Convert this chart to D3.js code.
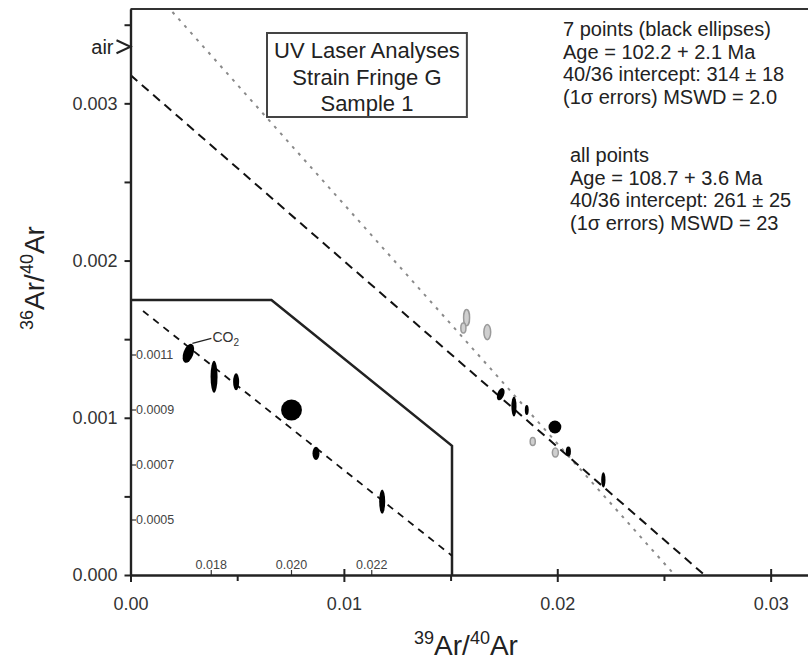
<!DOCTYPE html>
<html>
<head>
<meta charset="utf-8">
<style>
  body { margin: 0; background: #fff; }
  svg text { font-family: "Liberation Sans", Arial, sans-serif; fill: #222; }
  .axis path, .axis line { stroke: #222; }
</style>
</head>
<body>
<script src="https://cdn.jsdelivr.net/npm/d3@7"></script>
<script>

// ---- data ----
// main isochron: [39Ar/40Ar, 36Ar/40Ar, err x, err y, tilt deg]
var blackPoints = [
  [0.01735, 0.001150, 0.00016, 0.000041, 20],
  [0.01797, 0.001072, 0.00012, 0.000064, 0],
  [0.01857, 0.001050, 0.00009, 0.000032, 0],
  [0.01989, 0.000941, 0.00030, 0.000041, 0],
  [0.02052, 0.000785, 0.00012, 0.000032, 0],
  [0.02216, 0.000605, 0.00010, 0.000048, 0]
];
var grayPoints = [
  [0.01575, 0.001637, 0.00014, 0.000051],
  [0.01560, 0.001571, 0.00012, 0.000032],
  [0.01672, 0.001545, 0.00016, 0.000048],
  [0.01885, 0.000849, 0.00012, 0.000025],
  [0.01991, 0.000779, 0.00014, 0.000029]
];
// enlarged inset of the black points
var insetPoints = [
  [0.01743, 0.001106, 0.000125, 0.000036, 20],
  [0.01807, 0.001021, 0.000087, 0.000058, 0],
  [0.01862, 0.001003, 0.000075, 0.000031, 0],
  [0.02000, 0.000900, 0.000260, 0.000038, 0],
  [0.02061, 0.000742, 0.000087, 0.000024, 0],
  [0.02226, 0.000567, 0.000075, 0.000044, 0]
];
// fit lines [x0, y0, x1, y1]
var fitBlack = [0, 0.00318, 0.0269, 0];
var fitAll   = [0, 0.00388, 0.0255, 0];
var insetFit = [0.0163, 0.00126, 0.024, 0.00037];
var insetFrame = [[0.016, 0.0013], [0.0195, 0.0013], [0.024, 0.00077], [0.024, 0.0003]];
var airValue = 0.00336;

var xMajor = [0, 0.01, 0.02, 0.03], xMinor = [0.005, 0.015, 0.025];
var yMajor = [0, 0.001, 0.002, 0.003], yMinor = [0.0005, 0.0015, 0.0025, 0.0035];
var insetXTicks = [0.018, 0.020, 0.022];
var insetYTicks = [0.0005, 0.0007, 0.0009, 0.0011];

var titleLines = ["UV Laser Analyses", "Strain Fringe G", "Sample 1"];
var stats7 = ["7 points (black ellipses)", "Age = 102.2 + 2.1 Ma", "40/36 intercept: 314 \u00b1 18", "(1\u03c3 errors) MSWD = 2.0"];
var statsAll = ["all points", "Age = 108.7 + 3.6 Ma", "40/36 intercept: 261 \u00b1 25", "(1\u03c3 errors) MSWD = 23"];

// ---- layout ----
var W = 808, H = 662;
var pLeft = 130.5, pTop = 9, pBottom = 575, pRight = 808;

var svg = d3.select("body").append("svg")
    .attr("width", W).attr("height", H);

var x = d3.scaleLinear().domain([0, 0.03175]).range([pLeft, pRight]);
var y = d3.scaleLinear().domain([0, 0.0036]).range([pBottom, pTop]);

var ix = d3.scaleLinear().domain([0.016, 0.024]).range([131, 452]);
var iy = d3.scaleLinear().domain([0.0003, 0.0013]).range([pBottom, 300]);

svg.append("clipPath").attr("id", "plot")
  .append("rect").attr("x", pLeft).attr("y", pTop).attr("width", pRight - pLeft).attr("height", pBottom - pTop);

// top frame line
svg.append("line")
    .attr("x1", pLeft).attr("x2", pRight).attr("y1", pTop).attr("y2", pTop)
    .attr("stroke", "#333").attr("stroke-width", 2);

// fit lines
svg.append("line")
    .attr("clip-path", "url(#plot)")
    .attr("x1", x(fitAll[0])).attr("y1", y(fitAll[1]))
    .attr("x2", x(fitAll[2])).attr("y2", y(fitAll[3]))
    .attr("stroke", "#8a8a8a").attr("stroke-width", 2).attr("stroke-dasharray", "3,6");
svg.append("line")
    .attr("clip-path", "url(#plot)")
    .attr("x1", x(fitBlack[0])).attr("y1", y(fitBlack[1]))
    .attr("x2", x(fitBlack[2])).attr("y2", y(fitBlack[3]))
    .attr("stroke", "#111").attr("stroke-width", 2).attr("stroke-dasharray", "9,6");

// inset frame + fit
svg.append("path")
    .attr("d", d3.line().x(d => ix(d[0])).y(d => iy(d[1]))(insetFrame))
    .attr("fill", "none").attr("stroke", "#222").attr("stroke-width", 2.5);
svg.append("line")
    .attr("x1", ix(insetFit[0])).attr("y1", iy(insetFit[1]))
    .attr("x2", ix(insetFit[2])).attr("y2", iy(insetFit[3]))
    .attr("stroke", "#111").attr("stroke-width", 1.8).attr("stroke-dasharray", "7,6");

// ellipses
function drawEllipses(data, sx, sy, fill, stroke) {
  svg.append("g").selectAll("ellipse")
    .data(data).enter().append("ellipse")
      .attr("transform", d => "translate(" + sx(d[0]) + "," + sy(d[1]) + ") rotate(" + (d[4] || 0) + ")")
      .attr("rx", d => sx(d[0] + d[2]) - sx(d[0]))
      .attr("ry", d => sy(d[1]) - sy(d[1] + d[3]))
      .attr("fill", fill)
      .attr("stroke", stroke)
      .attr("stroke-width", stroke == "none" ? 0 : 1.5);
}
drawEllipses(grayPoints, x, y, "#cfcfcf", "#9a9a9a");
drawEllipses(blackPoints, x, y, "#000", "none");
drawEllipses(insetPoints, ix, iy, "#000", "none");

// CO2 label in inset
var co2 = insetPoints[0];
svg.append("line")
    .attr("x1", ix(co2[0]) + 4).attr("y1", iy(co2[1]) - 10)
    .attr("x2", ix(co2[0]) + 23).attr("y2", iy(co2[1]) - 15)
    .attr("stroke", "#222").attr("stroke-width", 1.2);
var co2t = svg.append("text")
    .attr("x", ix(co2[0]) + 24).attr("y", iy(co2[1]) - 11.5)
    .style("font-size", "14px").style("fill", "#333");
co2t.append("tspan").text("CO");
co2t.append("tspan").attr("dy", 4).style("font-size", "10px").text("2");

// inset ticks
var fmtIx = d3.format(".3f"), fmtIy = d3.format(".4f");
var gix = svg.append("g").selectAll("g").data(insetXTicks).enter().append("g");
gix.append("line")
    .attr("x1", d => ix(d)).attr("x2", d => ix(d))
    .attr("y1", pBottom).attr("y2", pBottom - 5)
    .attr("stroke", "#333").attr("stroke-width", 1.2);
gix.append("text")
    .attr("x", d => ix(d)).attr("y", pBottom - 6)
    .attr("text-anchor", "middle")
    .style("font-size", "12.5px").style("fill", "#444")
    .text(fmtIx);
var giy = svg.append("g").selectAll("g").data(insetYTicks).enter().append("g");
giy.append("line")
    .attr("x1", 131).attr("x2", 136)
    .attr("y1", d => iy(d)).attr("y2", d => iy(d))
    .attr("stroke", "#333").attr("stroke-width", 1.2);
giy.append("text")
    .attr("x", 136).attr("y", d => iy(d))
    .attr("dy", "0.35em")
    .style("font-size", "12.5px").style("fill", "#444")
    .text(fmtIy);

// main axes
var xAxis = svg.append("g").attr("class", "axis")
    .attr("transform", "translate(0," + pBottom + ")")
    .call(d3.axisBottom(x).tickValues(xMajor).tickFormat(d3.format(".2f"))
      .tickSize(7).tickSizeOuter(0).tickPadding(15));
xAxis.selectAll(".tick line").attr("y1", -6).attr("stroke-width", 2);
svg.append("g").attr("class", "axis")
    .attr("transform", "translate(0," + pBottom + ")")
    .call(d3.axisBottom(x).tickValues(xMinor).tickFormat("").tickSize(6).tickSizeOuter(0))
    .selectAll(".tick line").attr("stroke-width", 2);

var yAxis = svg.append("g").attr("class", "axis")
    .attr("transform", "translate(" + pLeft + ",0)")
    .call(d3.axisLeft(y).tickValues(yMajor).tickFormat(d3.format(".3f"))
      .tickSize(6).tickSizeOuter(0).tickPadding(7));
yAxis.selectAll(".tick line").attr("stroke-width", 2);
svg.append("g").attr("class", "axis")
    .attr("transform", "translate(" + pLeft + ",0)")
    .call(d3.axisLeft(y).tickValues(yMinor).tickFormat("").tickSize(6).tickSizeOuter(0))
    .selectAll(".tick line").attr("stroke-width", 2);

svg.selectAll(".axis path.domain").attr("stroke-width", 2.2);
svg.selectAll(".axis text")
    .style("font-size", "18px").style("fill", "#333")
    .style("font-family", "'Liberation Sans', Arial, sans-serif");

// air marker
var ay = y(airValue);
svg.append("path")
    .attr("d", "M" + (pLeft - 14) + "," + (ay - 6.5) + "L" + pLeft + "," + ay + "L" + (pLeft - 14) + "," + (ay + 6.5))
    .attr("fill", "none").attr("stroke", "#222").attr("stroke-width", 2);
svg.append("text")
    .attr("x", pLeft - 17).attr("y", ay).attr("dy", "0.35em")
    .attr("text-anchor", "end")
    .style("font-size", "20px")
    .text("air");

// axis titles
var xt = svg.append("text")
    .attr("x", 466).attr("y", 655)
    .attr("text-anchor", "middle");
xt.append("tspan").attr("dy", -11).style("font-size", "18px").text("39");
xt.append("tspan").attr("dy", 11).style("font-size", "28px").text("Ar/");
xt.append("tspan").attr("dy", -11).style("font-size", "18px").text("40");
xt.append("tspan").attr("dy", 11).style("font-size", "28px").text("Ar");

var yt = svg.append("text")
    .attr("transform", "translate(44,278) rotate(-90)")
    .attr("text-anchor", "middle");
yt.append("tspan").attr("dy", -11).style("font-size", "18px").text("36");
yt.append("tspan").attr("dy", 11).style("font-size", "28px").text("Ar/");
yt.append("tspan").attr("dy", -11).style("font-size", "18px").text("40");
yt.append("tspan").attr("dy", 11).style("font-size", "28px").text("Ar");

// title box
var boxLeft = 267, boxTop = 33, boxBottom = 117;
var tg = svg.append("g");
var tt = tg.selectAll("text").data(titleLines).enter().append("text")
    .attr("y", (d, i) => [57.5, 84.5, 110.5][i])
    .attr("text-anchor", "middle")
    .style("font-size", "22px")
    .text(d => d);
var tw = d3.max(tt.nodes(), n => n.getComputedTextLength());
var boxW = tw + 14;
tt.attr("x", boxLeft + boxW / 2);
tg.insert("rect", "text")
    .attr("x", boxLeft).attr("y", boxTop)
    .attr("width", boxW).attr("height", boxBottom - boxTop)
    .attr("fill", "#fff").attr("stroke", "#444").attr("stroke-width", 2);

// statistics text
svg.append("g").selectAll("text").data(stats7).enter().append("text")
    .attr("x", 563).attr("y", (d, i) => 36 + i * 22.5)
    .style("font-size", "20px")
    .text(d => d);
svg.append("g").selectAll("text").data(statsAll).enter().append("text")
    .attr("x", 570).attr("y", (d, i) => 162 + i * 22.5)
    .style("font-size", "20px")
    .text(d => d);

</script>
</body>
</html>
